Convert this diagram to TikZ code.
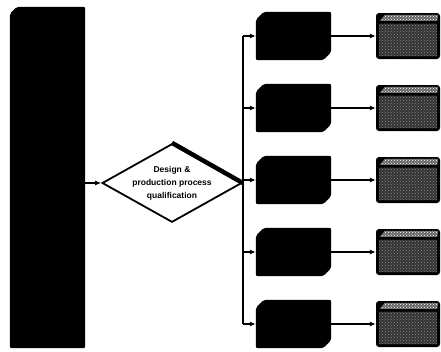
\documentclass[tikz,border=0pt]{standalone}
\usepackage{fontspec}
\setmainfont{Liberation Sans}
\usetikzlibrary{shapes.geometric,patterns,arrows.meta}
\begin{document}
\begin{tikzpicture}[x=1pt,y=-1pt,
  conn/.style={line width=1.4pt,-{Latex[length=6pt,width=5pt]}},
  plain/.style={line width=1.4pt},
  holder/.style={rectangle,inner sep=0pt},
  dec/.style={diamond,draw=black,line width=1.8pt,fill=white,inner sep=0pt,
    minimum width=135pt,minimum height=76pt,shape aspect=1.78,align=center,
    font=\bfseries\fontsize{8.5}{13}\selectfont},
  solid black/.style={fill=black,rounded corners=2pt}
]
\useasboundingbox (0,0) rectangle (441,351);
% left bar
\node[holder,minimum width=75pt,minimum height=341pt] (bar) at (47.5,177.5) {};
\fill[solid black] ([xshift=7pt]bar.north west) -- (bar.north east) -- (bar.south east) -- (bar.south west) -- ([yshift=-7pt]bar.north west) -- cycle;
% decision
\node[dec] (dia) at (172,183) {Design \&\\production process\\qualification};
\draw[line width=4.5pt] (dia.north) -- (dia.east);
\coordinate (spine) at (243,183);
\foreach \i/\y in {1/36,2/108,3/180,4/252,5/324}{
  \node[holder,minimum width=75pt,minimum height=48pt] (m\i) at (293.5,\y) {};
  \fill[solid black] ([xshift=8pt]m\i.north west) -- (m\i.north east) -- ([yshift=8pt]m\i.south east) -- ([xshift=-8pt]m\i.south east) -- (m\i.south west) -- ([yshift=-8pt]m\i.north west) -- cycle;
  \node[holder,rounded corners=3pt,fill=black,minimum width=64pt,minimum height=46pt] (o\i) at (408,\y) {};
  \fill[black!80] ([xshift=3pt,yshift=-11pt]o\i.north west) rectangle ([xshift=-3pt,yshift=3pt]o\i.south east);
  \fill[pattern=crosshatch dots,pattern color=black!45] ([xshift=3pt,yshift=-11pt]o\i.north west) rectangle ([xshift=-3pt,yshift=3pt]o\i.south east);
  \fill[black!60] ([xshift=9pt,yshift=-2pt]o\i.north west) -- ([xshift=-2pt,yshift=-2pt]o\i.north east) -- ([xshift=-3pt,yshift=-8pt]o\i.north east) -- ([xshift=4pt,yshift=-8pt]o\i.north west) -- cycle;
  \fill[pattern=crosshatch dots,pattern color=white] ([xshift=9pt,yshift=-2pt]o\i.north west) -- ([xshift=-2pt,yshift=-2pt]o\i.north east) -- ([xshift=-3pt,yshift=-8pt]o\i.north east) -- ([xshift=4pt,yshift=-8pt]o\i.north west) -- cycle;
  \draw[conn] (spine |- m\i.west) -- (m\i.west);
  \draw[conn] (m\i.east) -- (o\i.west);
}
\draw[plain] (spine |- m1.west) -- (spine |- m5.west);
\draw[conn] (bar.east |- dia.west) -- (dia.west);
\draw[plain] (dia.east) -- (spine);
\end{tikzpicture}
\end{document}
